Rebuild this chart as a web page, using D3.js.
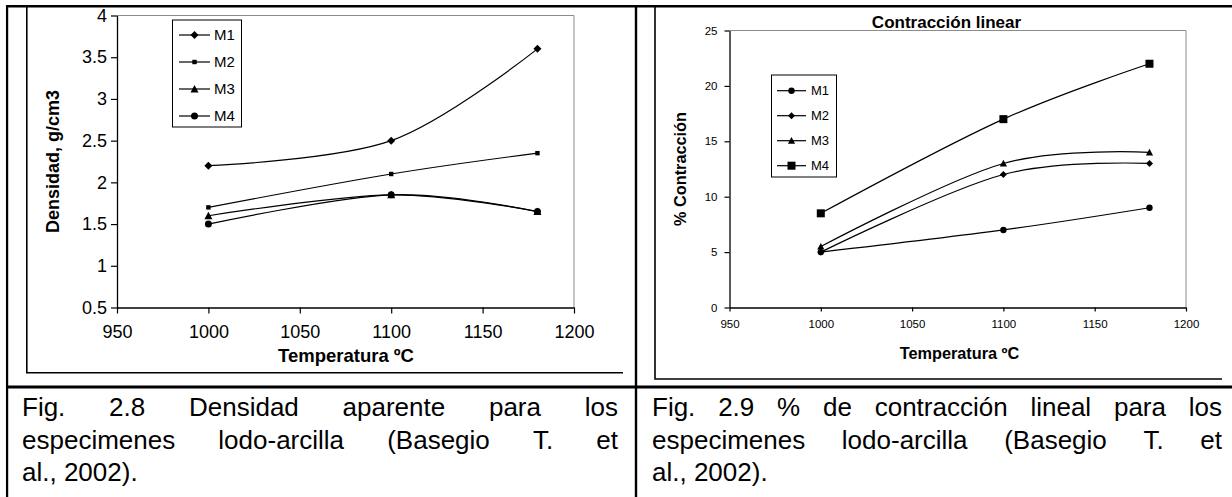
<!DOCTYPE html>
<html><head><meta charset="utf-8">
<script src="https://cdn.jsdelivr.net/npm/d3@7"></script>
<style>
body{margin:0;background:#fff;overflow:hidden}
text{font-family:Arial,"Liberation Sans",sans-serif;fill:#000}
</style></head>
<body><svg id="c" width="1232" height="497"></svg>
<script>
// ---------------- data ----------------
const temps = [1000, 1100, 1180];
const seriesNames = ["M1", "M2", "M3", "M4"];
// Fig 2.8 densidad aparente (g/cm3)
const densM1 = [2.2, 2.5, 3.6];
const densM2 = [1.7, 2.1, 2.35];
const densM3 = [1.6, 1.85, 1.65];
const densM4 = [1.5, 1.85, 1.65];
// Fig 2.9 % contracción
const contrM1 = [5, 7, 9];
const contrM2 = [5, 12, 13];
const contrM3 = [5.5, 13, 14];
const contrM4 = [8.5, 17, 22];
const xTicks = [950, 1000, 1050, 1100, 1150, 1200];
const densTicks = [0.5, 1, 1.5, 2, 2.5, 3, 3.5, 4];
const contrTicks = [0, 5, 10, 15, 20, 25];
const densMarkers = ["diamond", "square", "triangle", "circle"];
const contrMarkers = ["circle", "diamond", "triangle", "square"];
const chartTitleRight = "Contracción linear";
const xTitle = "Temperatura ºC";
const yTitleLeft = "Densidad, g/cm3";
const yTitleRight = "% Contracción";
const captionLeft = ["Fig. 2.8 Densidad aparente para los", "especimenes lodo-arcilla (Basegio T. et", "al., 2002)."];
const captionRight = ["Fig. 2.9 % de contracción lineal para los", "especimenes lodo-arcilla (Basegio T. et", "al., 2002)."];

const densData = [densM1, densM2, densM3, densM4];
const contrData = [contrM1, contrM2, contrM3, contrM4];

const svg = d3.select("#c");

function marker(g, type, x, y, s) {
  if (type === "diamond") {
    g.append("path").attr("d", `M${x},${y - s}L${x + s},${y}L${x},${y + s}L${x - s},${y}Z`);
  } else if (type === "square") {
    g.append("rect").attr("x", x - s).attr("y", y - s).attr("width", 2 * s).attr("height", 2 * s);
  } else if (type === "triangle") {
    g.append("path").attr("d", `M${x},${y - s}L${x + s},${y + s * 0.85}L${x - s},${y + s * 0.85}Z`);
  } else {
    g.append("circle").attr("cx", x).attr("cy", y).attr("r", s);
  }
}

function drawChart(opt) {
  const g = svg.append("g");
  const x = d3.scaleLinear().domain([950, 1200]).range([opt.left, opt.right]);
  const y = d3.scaleLinear().domain(opt.yDomain).range([opt.bottom, opt.top]);
  g.append("path")
    .attr("d", `M${opt.left},${opt.top}H${opt.right}V${opt.bottom}`)
    .attr("fill", "none").attr("stroke", "#8c8c8c").attr("stroke-width", 1);
  const xa = g.append("g").attr("transform", `translate(0,${opt.bottom})`)
    .call(d3.axisBottom(x).tickValues(xTicks).tickFormat(d3.format("d"))
      .tickSizeInner(opt.tickX).tickSizeOuter(0).tickPadding(opt.padX));
  const ya = g.append("g").attr("transform", `translate(${opt.left},0)`)
    .call(d3.axisLeft(y).tickValues(opt.yTicks).tickFormat(d => String(d))
      .tickSizeInner(opt.tickY).tickSizeOuter(0).tickPadding(opt.padY));
  [xa, ya].forEach(a => {
    a.select(".domain").attr("stroke", "#000").attr("stroke-width", 1.3);
    a.selectAll(".tick line").attr("stroke", "#000").attr("stroke-width", 1.2);
    a.selectAll("text").attr("font-size", opt.tickFont).attr("font-family", "Arial,'Liberation Sans',sans-serif").attr("fill", "#000");
  });
  const line = d3.line().x(d => x(d[0])).y(d => y(d[1])).curve(d3.curveCardinal.tension(0));
  opt.data.forEach((vals) => {
    const pts = temps.map((t, j) => [t, vals[j]]);
    g.append("path").attr("d", line(pts)).attr("fill", "none").attr("stroke", "#000").attr("stroke-width", 1.2);
  });
  opt.data.forEach((vals, i) => {
    const mg = g.append("g").attr("fill", "#000");
    temps.forEach((t, j) => marker(mg, opt.markers[i], x(t), y(vals[j]), opt.mSize[i]));
  });
  const L = opt.legend;
  g.append("rect").attr("x", L.x0).attr("y", L.y0).attr("width", L.x1 - L.x0).attr("height", L.y1 - L.y0)
    .attr("fill", "#fff").attr("stroke", "#000").attr("stroke-width", 1);
  seriesNames.forEach((n, i) => {
    const yy = L.firstY + i * L.step;
    g.append("line").attr("x1", L.lx0).attr("x2", L.lx1).attr("y1", yy).attr("y2", yy).attr("stroke", "#000").attr("stroke-width", 1.2);
    const mg = g.append("g").attr("fill", "#000");
    marker(mg, opt.markers[i], (L.lx0 + L.lx1) / 2, yy, opt.mSize[i]);
    g.append("text").attr("x", L.tx).attr("y", yy).attr("dy", "0.36em").attr("font-size", L.font).text(n);
  });
  g.append("text").attr("x", opt.xTitle.x).attr("y", opt.xTitle.y).attr("text-anchor", "middle")
    .attr("font-weight", "bold").attr("font-size", opt.xTitle.fs).text(xTitle);
  g.append("text").attr("transform", `translate(${opt.yTitle.x},${opt.yTitle.y}) rotate(-90)`).attr("text-anchor", "middle")
    .attr("font-weight", "bold").attr("font-size", opt.yTitle.fs).text(opt.yTitle.text);
  if (opt.title) {
    g.append("text").attr("x", opt.title.x).attr("y", opt.title.y).attr("text-anchor", "middle")
      .attr("font-weight", "bold").attr("font-size", opt.title.fs).text(opt.title.text);
  }
}

drawChart({
  left: 117, right: 574, top: 15.5, bottom: 307.5, yDomain: [0.5, 4], yTicks: densTicks,
  tickX: 6, tickY: 6, padX: 12, padY: 4, tickFont: 18,
  data: densData, markers: densMarkers, mSize: [4, 2.2, 4, 3.5],
  legend: { x0: 172.5, x1: 241.5, y0: 20, y1: 127, firstY: 35, step: 27, lx0: 179, lx1: 210, tx: 214, font: 15 },
  xTitle: { x: 346, y: 362, fs: 18.5 },
  yTitle: { x: 59, y: 161.5, fs: 18 , text: yTitleLeft }
});

drawChart({
  left: 729.5, right: 1186, top: 30.5, bottom: 307.5, yDomain: [0, 25], yTicks: contrTicks,
  tickX: 4, tickY: 5, padX: 8, padY: 7, tickFont: 11.5,
  data: contrData, markers: contrMarkers, mSize: [3.2, 3.5, 3.6, 4],
  legend: { x0: 771.5, x1: 836.5, y0: 75, y1: 177, firstY: 90.7, step: 25, lx0: 777, lx1: 806, tx: 811, font: 13 },
  xTitle: { x: 959.5, y: 359, fs: 16.3 },
  yTitle: { x: 686, y: 169, fs: 16.3, text: yTitleRight },
  title: { x: 946.5, y: 28, fs: 17, text: chartTitleRight }
});

// ---------------- frames / table ----------------
const frame = svg.append("g").attr("fill", "none").attr("stroke", "#000");
frame.append("path").attr("d", "M26.8,5V372.7H623").attr("stroke-width", 1.6);
frame.append("path").attr("d", "M655,5V379H1222").attr("stroke-width", 1.6);
frame.append("path").attr("d", "M7,0V497").attr("stroke-width", 2.4);
frame.append("path").attr("d", "M636,0V497").attr("stroke-width", 2.4);
frame.append("path").attr("d", "M6,6.2H1232").attr("stroke-width", 2.4);
frame.append("path").attr("d", "M6,387H1232").attr("stroke-width", 2.8);
svg.append("rect").attr("x", 0).attr("y", 0).attr("width", 1232).attr("height", 5).attr("fill", "#fff");
svg.append("rect").attr("x", 0).attr("y", 0).attr("width", 5.8).attr("height", 497).attr("fill", "#fff");

// ---------------- captions (justified) ----------------
function caption(lines, x0, x1, baselines) {
  const g = svg.append("g").attr("font-size", 26);
  lines.forEach((ln, li) => {
    const justified = li < lines.length - 1;
    const words = justified ? ln.split(" ") : [ln];
    const nodes = words.map(w => g.append("text").attr("y", baselines[li]).text(w));
    const widths = nodes.map(n => n.node().getComputedTextLength());
    const gap = justified ? (x1 - x0 - d3.sum(widths)) / (words.length - 1) : 0;
    let cx = x0;
    nodes.forEach((n, i) => { n.attr("x", cx); cx += widths[i] + gap; });
  });
}
caption(captionLeft, 22, 618, [416, 448.5, 481]);
caption(captionRight, 652, 1222, [416, 448.5, 481]);
</script></body></html>
